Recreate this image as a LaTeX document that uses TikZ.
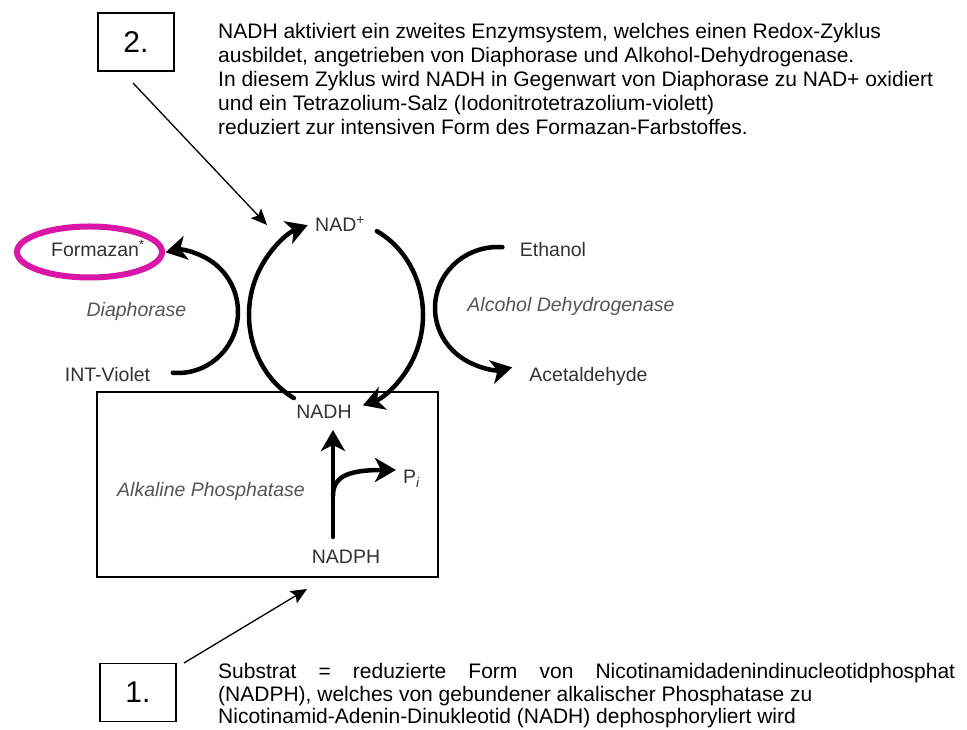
\documentclass[tikz,border=0pt]{standalone}
\usepackage{fontspec}
\setmainfont{Liberation Sans}
\usetikzlibrary{arrows.meta,shapes.geometric}
\definecolor{lbl}{RGB}{50,50,50}
\definecolor{enz}{RGB}{85,85,85}
\definecolor{mag}{RGB}{218,22,168}
\begin{document}
\begin{tikzpicture}[x=1pt,y=1pt,
  txt/.style={font=\fontsize{21}{24}\selectfont, inner sep=0pt, anchor=base west},
  lab/.style={font=\fontsize{19.5}{22}\selectfont, text=lbl, inner sep=0pt, anchor=base},
  enzl/.style={font=\fontsize{19.5}{22}\selectfont\itshape, text=enz, inner sep=0pt, anchor=base},
  numbox/.style={draw, line width=1.2pt, minimum width=76pt, minimum height=58pt, inner sep=0pt, font=\fontsize{30}{30}\selectfont},
  bigarrow/.style={line width=4.5pt, line cap=round, -{Stealth[length=21pt,width=24pt,inset=6pt]}},
  thinarrow/.style={line width=1.3pt, -{Stealth[length=16pt,width=14pt,inset=3pt]}}
]
\useasboundingbox (0,0) rectangle (967,730);
\fill[white] (0,0) rectangle (967,730);

% numbered boxes
\node[numbox] (box2) at (136,688) {2.};
\node[numbox] (box1) at (138,37.5) {1.};

% explanatory text (top)
\node[txt] (t1) at (218,691) {NADH aktiviert ein zweites Enzymsystem, welches einen Redox-Zyklus};
\node[txt] (t2) at (218,667) {ausbildet, angetrieben von Diaphorase und Alkohol-Dehydrogenase.};
\node[txt] (t3) at (218,643) {In diesem Zyklus wird NADH in Gegenwart von Diaphorase zu NAD+ oxidiert};
\node[txt] (t4) at (218,619) {und ein Tetrazolium-Salz (Iodonitrotetrazolium-violett)};
\node[txt] (t5) at (218,595) {reduziert zur intensiven Form des Formazan-Farbstoffes.};

% explanatory text (bottom)
\node[txt] (b1) at (218,51) {\makebox[737pt][s]{Substrat = reduzierte Form von Nicotinamidadenindinucleotidphosphat}};
\node[txt] (b2) at (218,28) {(NADPH), welches von gebundener alkalischer Phosphatase zu};
\node[txt] (b3) at (218,6) {Nicotinamid-Adenin-Dinukleotid (NADH) dephosphoryliert wird};

% alkaline phosphatase box
\node[draw, line width=2pt, minimum width=341pt, minimum height=185pt, inner sep=0pt] (apbox) at (267.5,245.5) {};

% labels
\node[lab] (formazan) at (98,473) {Formazan\textsuperscript{*}};
\node[draw=mag, line width=6pt, ellipse, minimum width=145pt, minimum height=51pt, inner sep=0pt] (ring) at (89.5,478) {};
\node[enzl] (diaph) at (136.5,413) {Diaphorase};
\node[lab] (int) at (107.5,348) {INT-Violet};
\node[lab] (nadp) at (340,498) {NAD\textsuperscript{+}};
\node[lab] (ethanol) at (553,473) {Ethanol};
\node[enzl] (adh) at (571,418) {Alcohol Dehydrogenase};
\node[lab] (acet) at (588.5,348) {Acetaldehyde};
\node[lab] (nadh) at (324,311) {NADH};
\node[enzl] (alkp) at (211,233) {Alkaline Phosphatase};
\node[lab] (nadph) at (346,166) {NADPH};
\node[lab, anchor=base west] (pi) at (403,246) {P\textsubscript{\textit{i}}};

% coordinates
\coordinate (cc) at (336,415);
\coordinate (dc) at (178,418);
\coordinate (ac) at (498,422);
\coordinate (vs) at (333,193);
\coordinate (ve) at (333,300);
\coordinate (bs) at (333,234);
\coordinate (be) at (396,260);
\coordinate (l2s) at (133,647);
\coordinate (l2e) at (267,505);
\coordinate (l1s) at (184,67);
\coordinate (l1e) at (307,141);

% redox cycle
\draw[bigarrow] (cc) ++(241:87 and 95) arc[start angle=241, end angle=109, x radius=87, y radius=95];
\draw[bigarrow] (cc) ++(62:87 and 95) arc[start angle=62, end angle=-72, x radius=87, y radius=95];
% diaphorase
\draw[bigarrow] (dc) ++(-95:60 and 61) arc[start angle=-95, end angle=102, x radius=60, y radius=61];
% alcohol dehydrogenase
\draw[bigarrow] (ac) ++(86:63 and 61) arc[start angle=86, end angle=283, x radius=63, y radius=61];
% phosphatase
\draw[bigarrow] (vs) -- (ve);
\draw[bigarrow] (bs) .. controls (333,252) and (345,260) .. (be);

% pointer lines
\draw[thinarrow] (l2s) -- (l2e);
\draw[thinarrow] (l1s) -- (l1e);
\end{tikzpicture}
\end{document}
